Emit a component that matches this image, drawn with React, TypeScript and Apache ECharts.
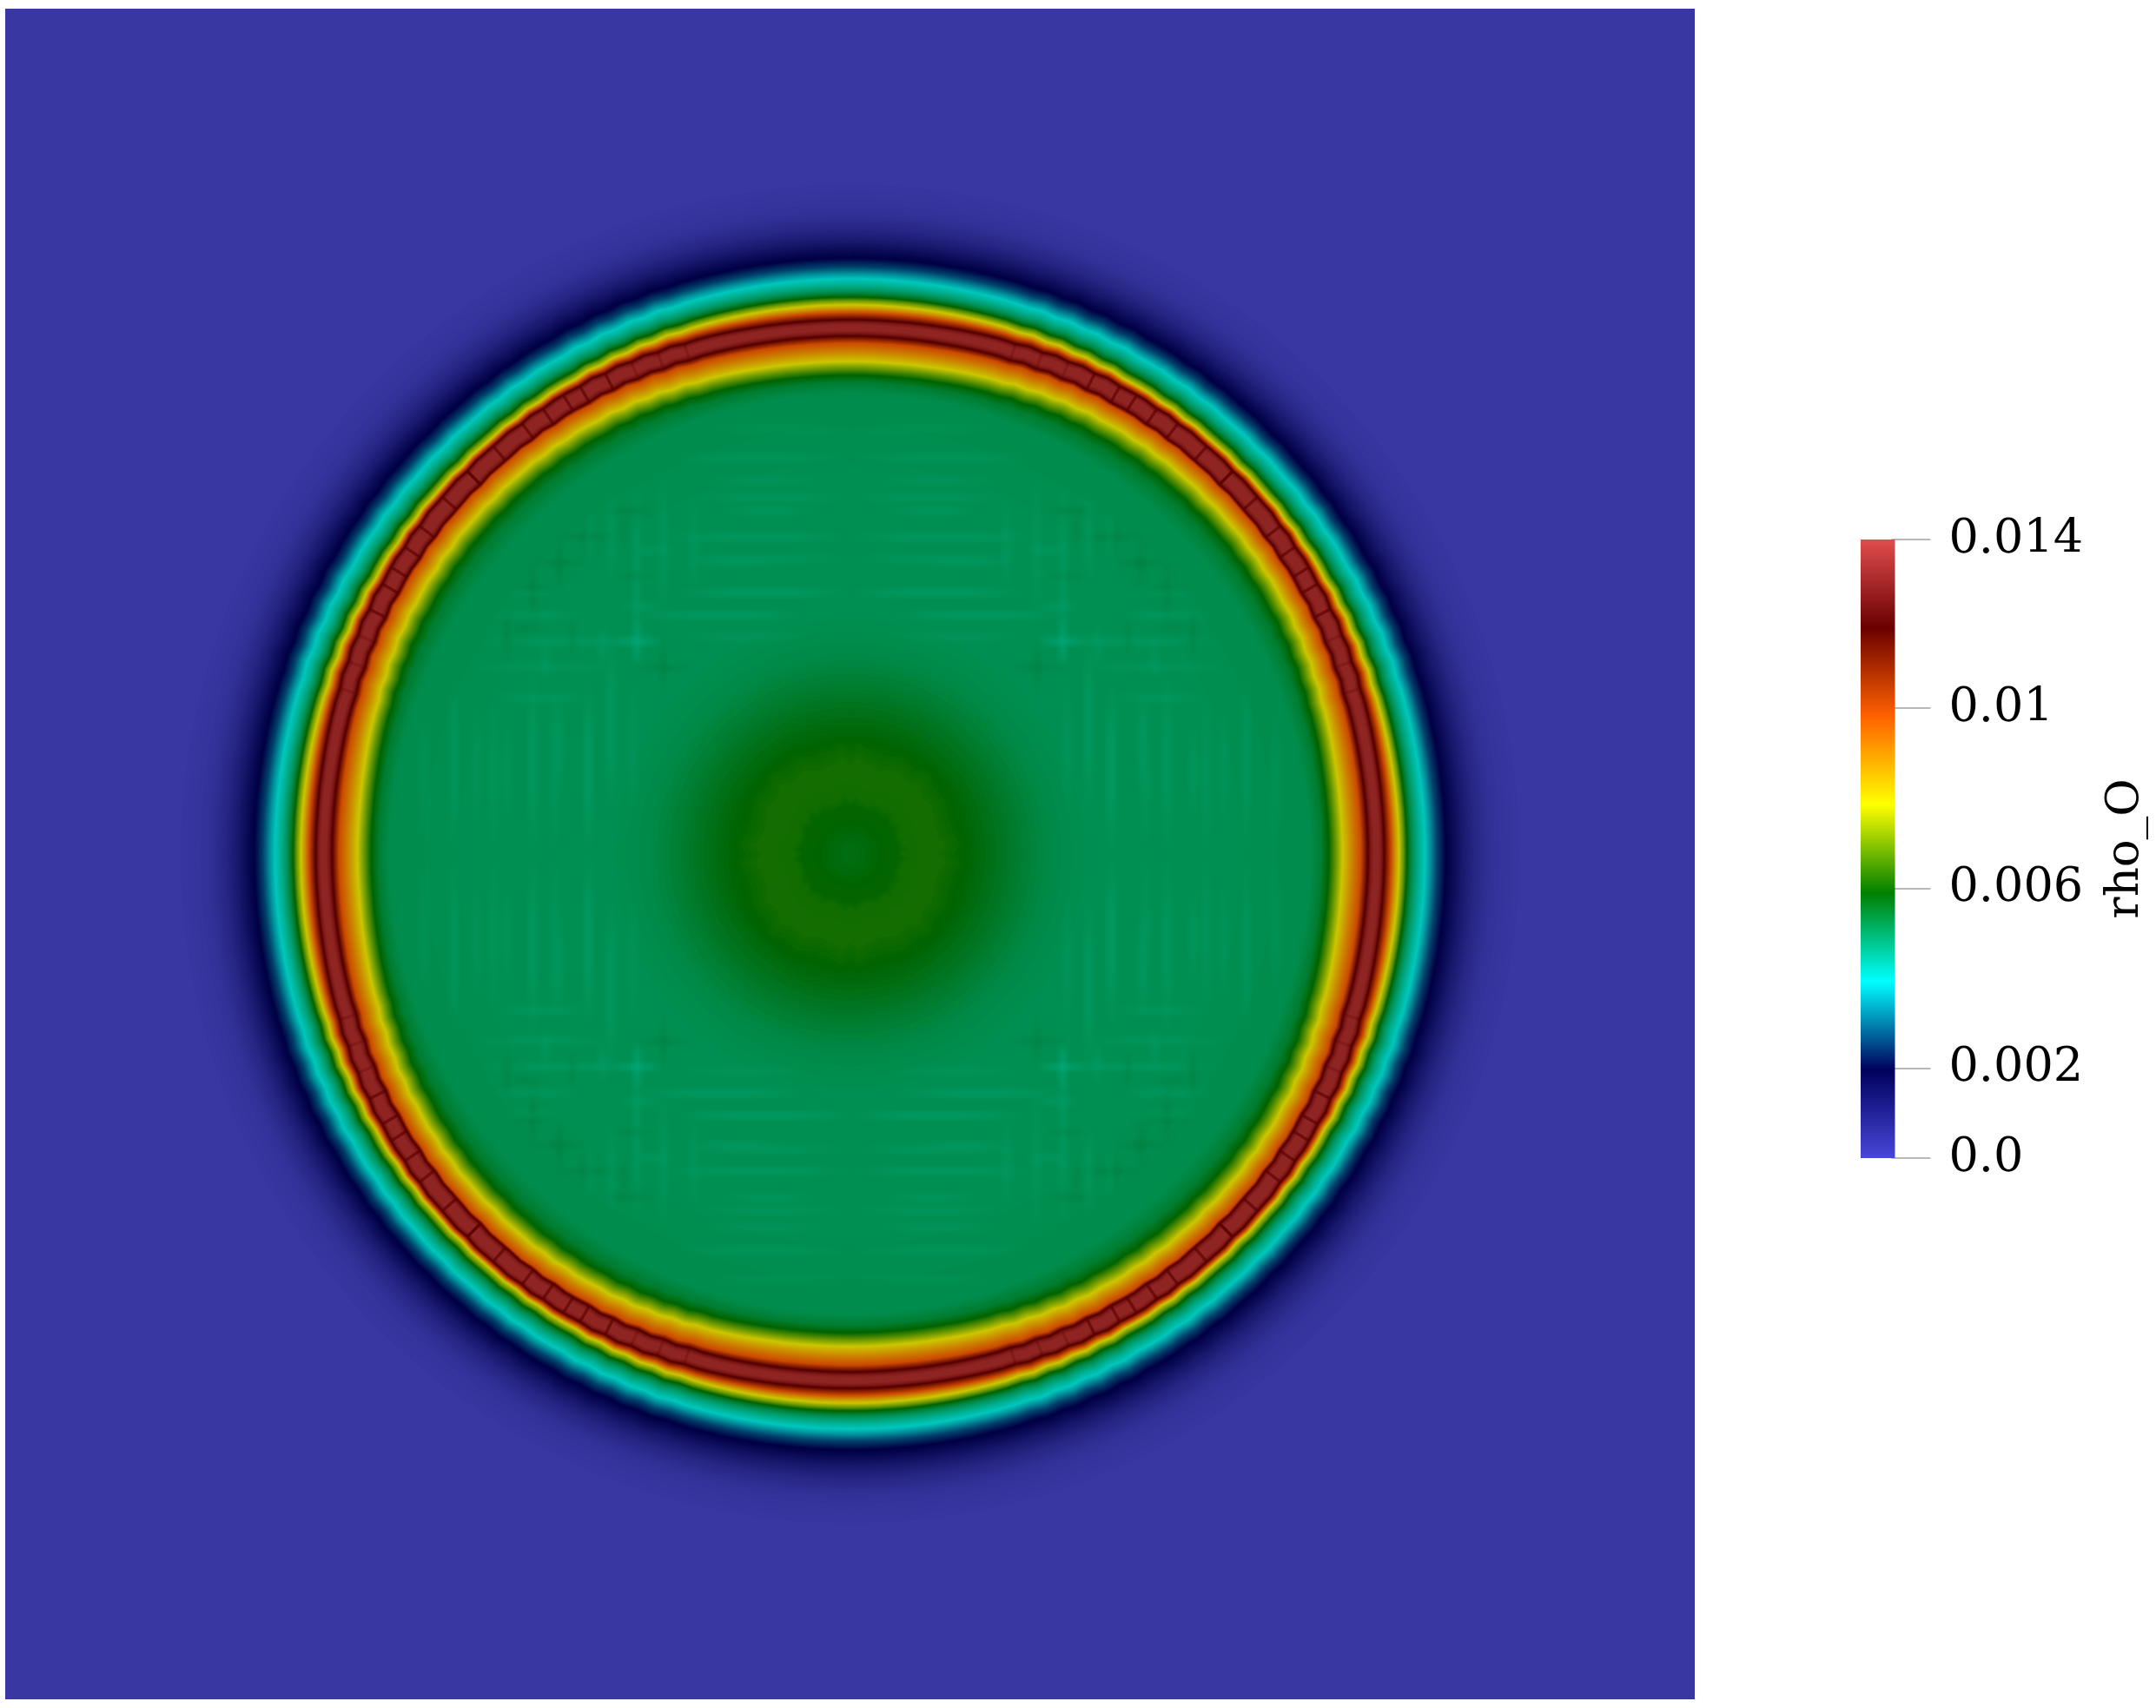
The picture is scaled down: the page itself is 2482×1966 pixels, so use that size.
import React, { useEffect, useRef } from "react";
import * as echarts from "echarts";

// Radial profile of rho_O (outermost first)
const profileRadius = [770, 740, 720, 705, 694, 686, 676, 668, 662, 655, 650, 646, 641, 637, 632, 627, 623, 619, 615, 612, 609, 603, 599.5, 596, 592, 588, 577, 567, 560, 551, 543, 530, 450, 350, 270, 230, 200, 175, 150, 135, 125, 108, 80, 65, 55, 40, 25, 12, 0];
const profileValue = [0.00003, 0.0002, 0.0006, 0.0011, 0.0016, 0.00196, 0.0026, 0.0034, 0.00393, 0.0044, 0.0048, 0.0052, 0.00589, 0.0069, 0.00786, 0.00884, 0.00982, 0.0108, 0.01179, 0.0126, 0.013, 0.013, 0.0126, 0.01179, 0.0108, 0.00982, 0.00884, 0.00786, 0.007, 0.00589, 0.0054, 0.0051, 0.00505, 0.00502, 0.00505, 0.00515, 0.00535, 0.00555, 0.00575, 0.00586, 0.00594, 0.00606, 0.00609, 0.00605, 0.00592, 0.0059, 0.00582, 0.00574, 0.0057];

// Eight-fold outward deformation of the inner band (degrees from the axis, 0..45)
const bulgeAngle = [0, 5, 10, 15, 20, 25, 30, 35, 40, 45];
const bulgeShift = [0, 0, 1, 3, 5, 8, 10, 11, 12, 12];
const bulgeRadius = [530, 551, 567, 588, 596, 603, 609, 615, 623, 632];
const bulgeWeight = [0, 0.85, 1.05, 0.9, 0.5, 0.42, 0.83, 0.75, 0.42, 0];

// Lobes of the central disc
const lobeAngle = [0, 5, 10, 20, 30, 38, 45];
const lobeShift = [-6, 3, -3, -6, 2, -3, 6];
const lobeRadius = [45, 70, 120, 145];
const lobeWeight = [0, 1, 1, 0];

// Cell boundaries in the hot core, first octant
const seamAngle = [18, 21, 24, 27, 30, 32, 34.6, 37.3, 41.2, 45];

// Faint streaks in the plateau: distance from axis, extent along it, strength (negative is dark)
const streakOffset = [456, 365, 301, 275, 245, 215, 335, 395, 365, 305, 335, 395, 245, 275, 215, 301, 430, 180, 490, 410, 340, 250, 285, 320, 350, 260];
const streakFrom = [0, 0, 0, 50, 219, 269, 305, 225, 265, 335, 70, 40, 215, 310, 180, 330, 30, 300, 0, 0, 0, 40, 215, 225, 200, 345];
const streakTo = [210, 210, 200, 250, 425, 435, 365, 285, 340, 395, 190, 150, 272, 420, 250, 400, 170, 410, 170, 180, 190, 200, 265, 275, 250, 395];
const streakTone = [0.7, 0.9, 1.2, 1, 0.8, 0.6, -0.8, -0.8, -0.8, -0.8, 0.6, 0.6, 1.6, 0.7, -0.7, 0.6, 0.5, 0.6, 0.5, 0.6, 0.6, 0.5, 0.7, -0.6, 0.6, -0.6];

// Colour bar
const colormapStops = ["#4747db", "#00005c", "#00ffff", "#008000", "#ffff00", "#ff6100", "#6b0000", "#e04d4d"];
const colorbarMax = 0.01375;
const tickValues = [0, 0.002, 0.006, 0.01, 0.01375];
const tickLabels = ["0.0", "0.002", "0.006", "0.01", "0.014"];
const legendTitle = "rho_O";

const SHADE = [0.8, 0.78, 0.74];
const stopRgb = colormapStops.map((c) => [1, 3, 5].map((i) => parseInt(c.slice(i, i + 2), 16)));

function fieldColor(v: number) {
  const t = Math.max(0, Math.min(0.99999, v / colorbarMax)) * (stopRgb.length - 1);
  const i = Math.floor(t);
  const f = t - i;
  const c = [0, 1, 2].map((k) => Math.round((stopRgb[i][k] + (stopRgb[i + 1][k] - stopRgb[i][k]) * f) * SHADE[k]));
  return `rgb(${c[0]},${c[1]},${c[2]})`;
}

function lookup(xs: number[], ys: number[], x: number) {
  if (x <= xs[0]) return ys[0];
  for (let i = 1; i < xs.length; i++) {
    if (x <= xs[i]) return ys[i - 1] + ((ys[i] - ys[i - 1]) * (x - xs[i - 1])) / (xs[i] - xs[i - 1]);
  }
  return ys[ys.length - 1];
}

function folded(deg: number) {
  const a = ((deg % 90) + 90) % 90;
  return a > 45 ? 90 - a : a;
}

// ripple follows the seam angles: pulled in at a seam, pushed out between seams
const rippleAngle: number[] = [];
const rippleValue: number[] = [];
seamAngle.forEach((a, i) => {
  rippleAngle.push(a);
  rippleValue.push(-1);
  if (i < seamAngle.length - 1) {
    rippleAngle.push((a + seamAngle[i + 1]) / 2);
    rippleValue.push(1);
  }
});

function shiftedRadius(r: number, deg: number) {
  const a = folded(deg);
  const main = lookup(bulgeAngle, bulgeShift, a) * lookup(bulgeRadius, bulgeWeight, r);
  const rippleW = r < 535 || r > 705 ? 0 : 0.9;
  const rip = a < seamAngle[0] ? 0 : lookup(rippleAngle, rippleValue, a) * rippleW;
  const lobe = lookup(lobeAngle, lobeShift, a) * lookup(lobeRadius, lobeWeight, r);
  return r + main + rip + lobe;
}

function renderRing(_: any, api: any) {
  const r0 = api.value(0);
  const v0 = api.value(1);
  const r1 = api.value(2);
  const v1 = api.value(3);
  const n = Math.max(1, Math.ceil(Math.abs(v1 - v0) / 0.00005));
  const children: any[] = [];
  const angStep = r0 > 500 ? 1.5 : 2.5;
  for (let k = 0; k < n; k++) {
    const r = r0 + ((r1 - r0) * k) / n;
    const v = v0 + ((v1 - v0) * (k + 0.5)) / n;
    const points: number[][] = [];
    for (let d = 0; d < 360; d += angStep) {
      const R = shiftedRadius(r, d);
      const th = (d * Math.PI) / 180;
      points.push(api.coord([R * Math.cos(th), R * Math.sin(th)]));
    }
    children.push({ type: "polygon", silent: true, shape: { points }, style: { fill: fieldColor(v) } });
  }
  return { type: "group", children };
}

function renderStreak(_: any, api: any) {
  const d = api.value(0);
  const from = api.value(1);
  const to = api.value(2);
  const tone = api.value(3);
  const base = tone > 0 ? "0,172,128" : "0,112,45";
  const alpha = Math.abs(tone) * 0.09;
  const children: any[] = [];
  const fade = () => [
    { offset: 0, color: `rgba(${base},0)` },
    { offset: 0.35, color: `rgba(${base},${alpha})` },
    { offset: 0.65, color: `rgba(${base},${alpha})` },
    { offset: 1, color: `rgba(${base},0)` },
  ];
  [1, -1].forEach((sa) =>
    [1, -1].forEach((sb) =>
      [false, true].forEach((swap) =>
        [14, 9, 5].forEach((w) => {
          const mid = sa * d;
          const p0 = swap ? [sb * from, mid] : [mid, sb * from];
          const p1 = swap ? [sb * to, mid] : [mid, sb * to];
          const a = api.coord(p0);
          const b = api.coord(p1);
          const x = swap ? Math.min(a[0], b[0]) : a[0] - w / 2;
          const y = swap ? a[1] - w / 2 : Math.min(a[1], b[1]);
          const width = swap ? Math.abs(a[0] - b[0]) : w;
          const height = swap ? w : Math.abs(a[1] - b[1]);
          children.push({
            type: "rect",
            silent: true,
            shape: { x, y, width, height },
            style: { fill: new echarts.graphic.LinearGradient(0, 0, swap ? 1 : 0, swap ? 0 : 1, fade()) },
          });
        })
      )
    )
  );
  return { type: "group", children };
}

function renderSeam(_: any, api: any) {
  const ang = api.value(0);
  const children: any[] = [];
  for (let q = 0; q < 4; q++) {
    [ang, 90 - ang].forEach((a) => {
      const deg = a + q * 90;
      const th = (deg * Math.PI) / 180;
      const r0 = shiftedRadius(599, deg);
      const r1 = shiftedRadius(613, deg);
      const p0 = api.coord([r0 * Math.cos(th), r0 * Math.sin(th)]);
      const p1 = api.coord([r1 * Math.cos(th), r1 * Math.sin(th)]);
      children.push({
        type: "line",
        silent: true,
        shape: { x1: p0[0], y1: p0[1], x2: p1[0], y2: p1[1] },
        style: { stroke: ang < 25 ? "rgba(90,0,0,0.25)" : "rgba(90,0,0,0.65)", lineWidth: 3.5, lineCap: "round" },
      });
    });
  }
  return { type: "group", children };
}

const ringRows = profileRadius.slice(0, -1).map((r, i) => [r, profileValue[i], profileRadius[i + 1], profileValue[i + 1]]);
const streakRows = streakOffset.map((d, i) => [d, streakFrom[i], streakTo[i], streakTone[i]]);
const seamRows = seamAngle.map((a) => [a]);

const SERIF = "DejaVu Serif";

export default function App() {
  const ref = useRef<HTMLDivElement>(null);
  useEffect(() => {
    const chart = echarts.init(ref.current!, undefined, { renderer: "svg" });
    chart.setOption({
      animation: false,
      backgroundColor: "#ffffff",
      grid: [
        { left: 6, top: 10, width: 1945, height: 1946, show: true, backgroundColor: fieldColor(0), borderWidth: 0, containLabel: false },
        { left: 2142, top: 621, width: 39.5, height: 712, show: false, containLabel: false },
      ],
      xAxis: [
        { type: "value", gridIndex: 0, min: -972.5, max: 972.5, show: false },
        { type: "category", gridIndex: 1, data: [legendTitle], show: false },
      ],
      yAxis: [
        { type: "value", gridIndex: 0, min: -973, max: 973, show: false },
        {
          type: "value",
          gridIndex: 1,
          min: 0,
          max: colorbarMax,
          position: "right",
          offset: -4,
          name: legendTitle,
          nameLocation: "middle",
          nameRotate: 90,
          nameGap: 238,
          nameTextStyle: { fontFamily: SERIF, fontSize: 53, color: "#000000" },
          axisLine: { show: false },
          splitLine: { show: false },
          axisTick: { show: true, length: 45, customValues: tickValues, lineStyle: { color: "#a0a0a0", width: 1.5 } },
          axisLabel: {
            show: true,
            margin: 66,
            verticalAlign: "bottom",
            lineHeight: 8,
            customValues: tickValues,
            fontFamily: SERIF,
            fontSize: 54,
            color: "#000000",
            formatter: (v: number) => tickLabels[tickValues.indexOf(v)] ?? "",
          },
        },
      ],
      series: [
        { type: "custom", name: "rho_O field", coordinateSystem: "cartesian2d", xAxisIndex: 0, yAxisIndex: 0, clip: true, data: ringRows, renderItem: renderRing, silent: true },
        { type: "custom", name: "plateau streaks", coordinateSystem: "cartesian2d", xAxisIndex: 0, yAxisIndex: 0, data: streakRows, renderItem: renderStreak, silent: true },
        { type: "custom", name: "core seams", coordinateSystem: "cartesian2d", xAxisIndex: 0, yAxisIndex: 0, data: seamRows, renderItem: renderSeam, silent: true },
        {
          type: "bar",
          name: "colour bar",
          xAxisIndex: 1,
          yAxisIndex: 1,
          barWidth: "100%",
          silent: true,
          data: [colorbarMax],
          z: 1,
          itemStyle: {
            color: new echarts.graphic.LinearGradient(
              0, 1, 0, 0,
              colormapStops.map((color, i) => ({ offset: i / (colormapStops.length - 1), color }))
            ),
          },
        },
      ],
    });
    return () => chart.dispose();
  }, []);
  return <div ref={ref} style={{ position: "fixed", left: 0, top: 0, width: 2482, height: 1966 }} />;
}
